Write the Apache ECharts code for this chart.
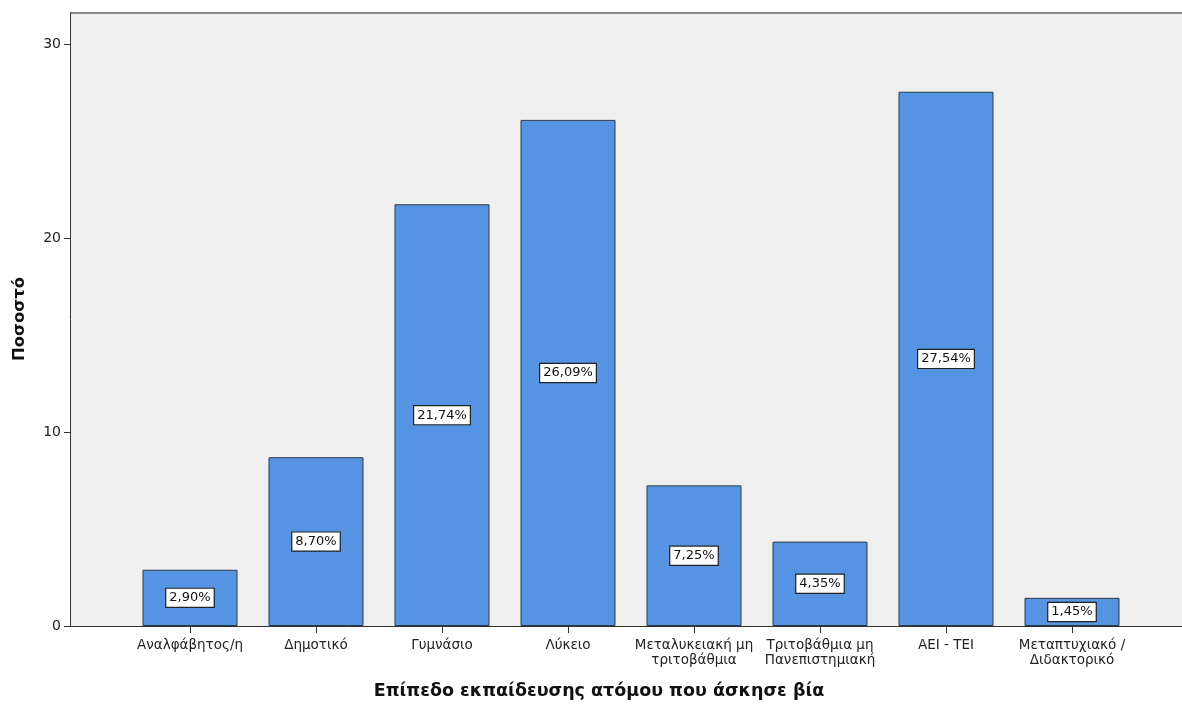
<!DOCTYPE html>
<html>
<head>
<meta charset="utf-8">
<script src="https://cdn.jsdelivr.net/npm/echarts@6/dist/echarts.min.js"></script>
<style>
html,body{margin:0;padding:0;background:#fff;}
#chart{width:1182px;height:706px;}
</style>
</head>
<body>
<div id="chart"></div>
<script>
const categories = [
  'Αναλφάβητος/η',
  'Δημοτικό',
  'Γυμνάσιο',
  'Λύκειο',
  'Μεταλυκειακή μη\nτριτοβάθμια',
  'Τριτοβάθμια μη\nΠανεπιστημιακή',
  'ΑΕΙ - ΤΕΙ',
  'Μεταπτυχιακό /\nΔιδακτορικό'
];
const percentages = [2.90, 8.70, 21.74, 26.09, 7.25, 4.35, 27.54, 1.45];
const yTicks = [0, 10, 20, 30];
const yMax = 31.6;
const yAxisTitle = 'Ποσοστό';
const xAxisTitle = 'Επίπεδο εκπαίδευσης ατόμου που άσκησε βία';

const FONT = '"DejaVu Sans", Verdana, sans-serif';
const chart = echarts.init(document.getElementById('chart'), null, {renderer: 'canvas'});

const option = {
  backgroundColor: '#ffffff',
  animation: false,
  grid: [
    {left: 70, right: 0, top: 13, bottom: 80, show: true, backgroundColor: '#efefef', borderWidth: 0, containLabel: false},
    {left: 127, right: 47, top: 13, bottom: 80, containLabel: false}
  ],
  xAxis: [
    {gridIndex: 0, type: 'value', min: 0, max: 1, axisLine: {show: true, onZero: false, lineStyle: {color: '#333', width: 1}},
     axisTick: {show: false}, axisLabel: {show: false}, splitLine: {show: false}},
    {gridIndex: 1, type: 'category', data: categories,
     axisLine: {show: false},
     axisTick: {show: true, alignWithLabel: true, length: 7, lineStyle: {color: '#333'}},
     axisLabel: {fontFamily: FONT, fontSize: 13.5, color: '#222', margin: 12, lineHeight: 15, interval: 0},
     splitLine: {show: false}}
  ],
  yAxis: [
    {gridIndex: 0, type: 'value', min: 0, max: yMax,
     axisLine: {show: true, lineStyle: {color: '#333', width: 1}},
     axisTick: {show: true, length: 6, customValues: yTicks, lineStyle: {color: '#333'}},
     axisLabel: {fontFamily: FONT, fontSize: 14, color: '#222', margin: 9, customValues: yTicks},
     splitLine: {show: false}},
    {gridIndex: 1, type: 'value', min: 0, max: yMax, show: false, splitLine: {show: false}}
  ],
  series: [{
    type: 'bar',
    xAxisIndex: 1,
    yAxisIndex: 1,
    data: percentages,
    barWidth: 95,
    itemStyle: {color: '#5594e3', borderColor: '#2f3a48', borderWidth: 1},
    label: {
      show: true,
      position: 'inside',
      formatter: p => p.value.toFixed(2).replace('.', ',') + '%',
      fontFamily: FONT,
      fontSize: 13,
      color: '#111',
      backgroundColor: '#ffffff',
      borderColor: '#222',
      borderWidth: 1.2,
      padding: [3, 3, 2, 3]
    }
  }],
  graphic: [
    {type: 'line', shape: {x1: 70, y1: 13, x2: 1182, y2: 13},
     style: {stroke: '#8a8a8a', lineWidth: 2}},
    {type: 'text', x: 20, y: 319, rotation: Math.PI / 2,
     style: {text: yAxisTitle, font: 'bold 16.5px ' + FONT, fill: '#111', textAlign: 'center', textVerticalAlign: 'middle'}},
    {type: 'text', x: 599, y: 691,
     style: {text: xAxisTitle, font: 'bold 17.5px ' + FONT, fill: '#111', textAlign: 'center', textVerticalAlign: 'middle'}}
  ]
};
chart.setOption(option);
</script>
</body>
</html>
